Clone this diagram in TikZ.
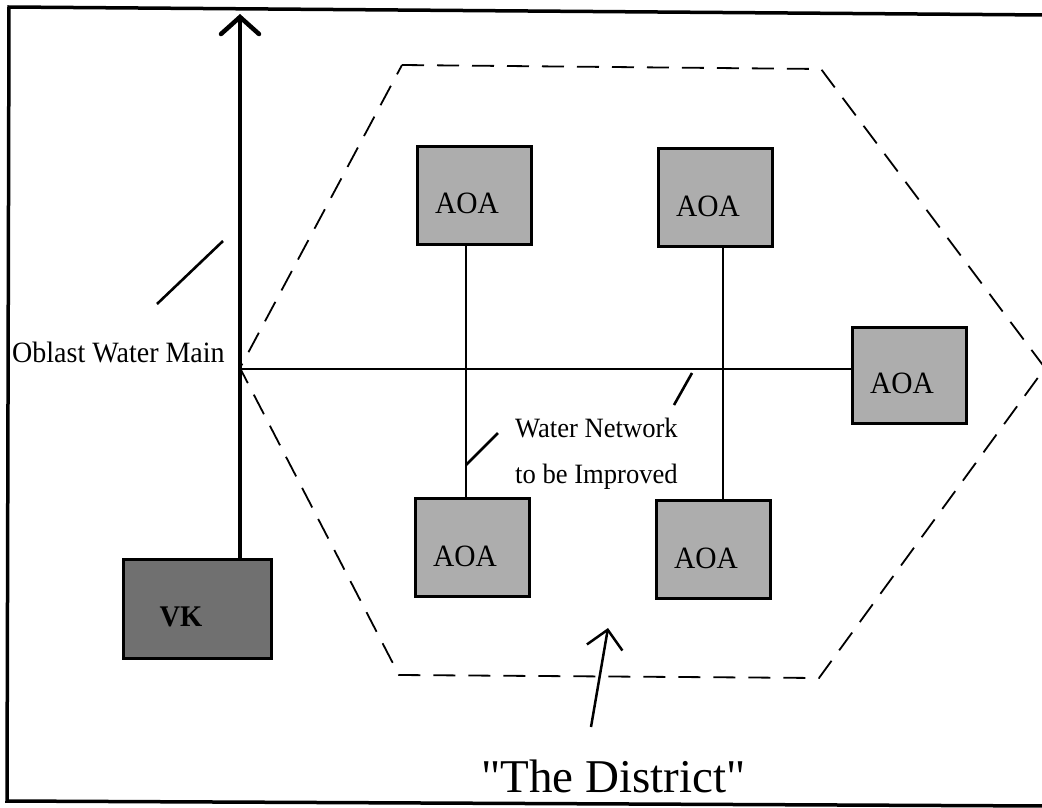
\documentclass[tikz,border=0pt]{standalone}
\usepackage{fontspec}
\setmainfont{Liberation Serif}[FakeStretch=0.95]
\newfontfamily\districtfont{Liberation Serif}[Ligatures=TeXOff]
\usetikzlibrary{arrows.meta}
\begin{document}
\begin{tikzpicture}[x=1pt,y=-1pt,
  box/.style={draw=black, line width=3pt, minimum width=114pt, minimum height=98pt,
    inner sep=0pt, text height=37pt, text depth=0pt, font=\fontsize{31}{31}\selectfont},
  aoa/.style={box, fill=black!32},
  vkbox/.style={box, fill=black!56, minimum width=148pt, minimum height=99pt,
    text height=35pt, font=\bfseries\fontsize{30}{30}\selectfont},
  pipe/.style={line width=2.3pt},
  tick/.style={line width=2.6pt},
  lbl/.style={inner sep=0pt, font=\fontsize{28}{28}\selectfont},
  hexline/.style={line width=1.8pt, dash pattern=on 22pt off 13pt},
  frameline/.style={line width=3.5pt}]
\clip (0,0) rectangle (1042,807);
\fill[white] (0,0) rectangle (1042,807);
% frame
\draw[frameline] (1048,15) -- (9,7) -- (7,801) -- (1048,806);
% district outline
\draw[hexline] (402,65) -- (821,69) -- (1045,368) -- (819,678) -- (399,675) -- (240,368) -- cycle;
% boxes
\node[aoa] (aoaTL) at (474,195) {AOA\hspace*{14pt}};
\node[aoa] (aoaTR) at (715,197.5) {AOA\hspace*{14pt}};
\node[aoa, minimum height=96pt] (aoaR) at (909,375) {AOA\hspace*{14pt}};
\node[aoa] (aoaBL) at (472,547.5) {AOA\hspace*{14pt}};
\node[aoa] (aoaBR) at (713,549.5) {AOA\hspace*{14pt}};
\node[vkbox] (vk) at (197,608.5) {VK\hspace*{32pt}};
% coordinates
\coordinate (junc) at (240,369);
\coordinate (top) at (240,14);
\coordinate (c1) at (466,370);
\coordinate (c2) at (723,370);
% main
\draw[line width=4pt, -{Straight Barb[length=17pt,width=38pt,line width=4.5pt,line cap=round]}] (vk.north -| junc) -- (top);
\draw[pipe] (junc) -- (junc -| aoaR.west);
\draw[pipe] (aoaTL.south -| c1) -- (aoaBL.north -| c1);
\draw[pipe] (aoaTR.south -| c2) -- (aoaBR.north -| c2);
% pointer ticks
\coordinate (t1a) at (157,304); \coordinate (t1b) at (223,241);
\coordinate (t2a) at (692,373); \coordinate (t2b) at (674,405);
\coordinate (t3a) at (498,433); \coordinate (t3b) at (466,465);
\draw[tick] (t1a) -- (t1b);
\draw[tick] (t2a) -- (t2b);
\draw[tick] (t3a) -- (t3b);
% labels
\node[lbl, anchor=base west, font=\fontsize{29.5}{29.5}\selectfont] (oblast) at (12,362) {Oblast Water Main};
\node[lbl, anchor=base west] (wn1) at (515,437) {Water Network};
\node[lbl, anchor=base west] (wn2) at (515,483) {to be Improved};
\node[anchor=base west, inner sep=0pt, font=\districtfont\fontsize{47}{47}\selectfont] (district) at (481,792) {"The District"};
% district arrow
\coordinate (dtail) at (591,727);
\coordinate (dtip) at (608,628);
\draw[line width=2.5pt, -{Straight Barb[length=18pt,width=36pt,line width=2.5pt]}] (dtail) -- (dtip);
\end{tikzpicture}
\end{document}
